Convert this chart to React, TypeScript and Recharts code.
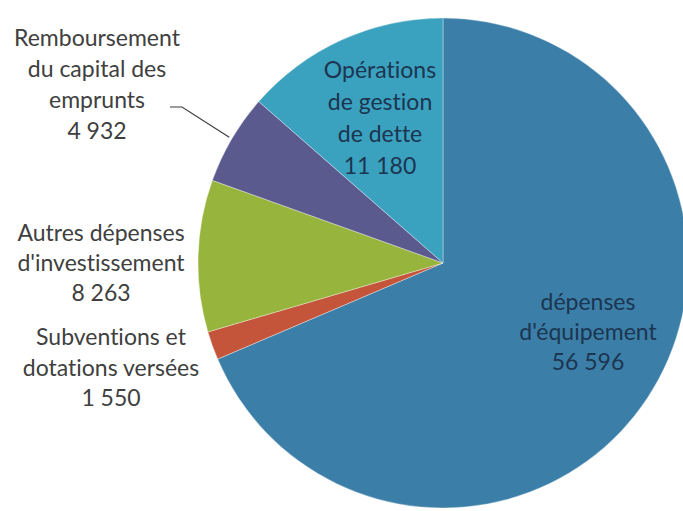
import { PieChart, Pie, Cell } from 'recharts';

// slices in drawing order, clockwise from 12 o'clock
const names = [
  "dépenses\nd'équipement",
  'Subventions et\ndotations versées',
  "Autres dépenses\nd'investissement",
  'Remboursement\ndu capital des\nemprunts',
  'Opérations\nde gestion\nde dette',
];
const values = [56596, 1550, 8263, 4932, 11180];

const colors = ['#3b7fa8', '#c4553b', '#97b43c', '#5b5a8e', '#3aa1bf'];

// label layout: centre x, first baseline, line gap, inside slice or not
const labelLayout = [
  { x: 588, y: 310, gap: 30, inside: true },
  { x: 111, y: 345, gap: 30.5, inside: false },
  { x: 101, y: 241, gap: 30, inside: false },
  { x: 97, y: 46, gap: 31, inside: false },
  { x: 380, y: 78, gap: 32, inside: true },
];

const data = names.map((name, i) => ({ name, value: values[i] }));

const fmt = (v: number) => String(v).replace(/\B(?=(\d{3})+(?!\d))/g, ' ');

const FONT = 'Lato, "Open Sans", sans-serif';

interface LabelProps {
  index?: number;
  cx?: number;
  cy?: number;
  midAngle?: number;
  outerRadius?: number;
}

const renderLabel = (props: LabelProps) => {
  const { index = 0, cx = 0, cy = 0, midAngle = 0, outerRadius = 0 } = props;
  const pos = labelLayout[index];
  const lines = [...names[index].split('\n'), fmt(values[index])];
  let leader = null;
  if (index === 3) {
    // leader line from the text to the edge of the small slice
    const rad = (Math.PI / 180) * midAngle;
    const ex = cx + (outerRadius + 3) * Math.cos(rad);
    const ey = cy - (outerRadius + 3) * Math.sin(rad);
    leader = (
      <polyline
        points={`170,107 182,107 ${ex},${ey}`}
        fill="none"
        stroke="#3d3d3d"
        strokeWidth={1.2}
      />
    );
  }
  return (
    <g key={`lbl-${index}`}>
      {leader}
      <text
        x={pos.x}
        y={pos.y}
        textAnchor="middle"
        fontFamily={FONT}
        fontSize={23}
        fill={pos.inside ? '#1c3550' : '#404040'}
        style={{ fontVariantLigatures: 'none' }}
      >
        {lines.map((l, i) => (
          <tspan key={i} x={pos.x} y={pos.y + i * pos.gap}>
            {l}
          </tspan>
        ))}
      </text>
    </g>
  );
};

export default function App() {
  return (
    <div style={{ position: 'absolute', left: 0, top: 0, width: 683, height: 511, background: '#fff' }}>
      <PieChart width={683} height={511} margin={{ top: 0, right: 0, bottom: 0, left: 0 }}>
        <Pie
          data={data}
          dataKey="value"
          nameKey="name"
          cx={443}
          cy={263}
          outerRadius={245}
          startAngle={90}
          endAngle={-270}
          stroke="rgba(255,255,255,0.35)"
          strokeWidth={1}
          label={renderLabel}
          labelLine={false}
          isAnimationActive={false}
        >
          {data.map((entry, index) => (
            <Cell key={`cell-${index}`} fill={colors[index]} />
          ))}
        </Pie>
      </PieChart>
    </div>
  );
}
